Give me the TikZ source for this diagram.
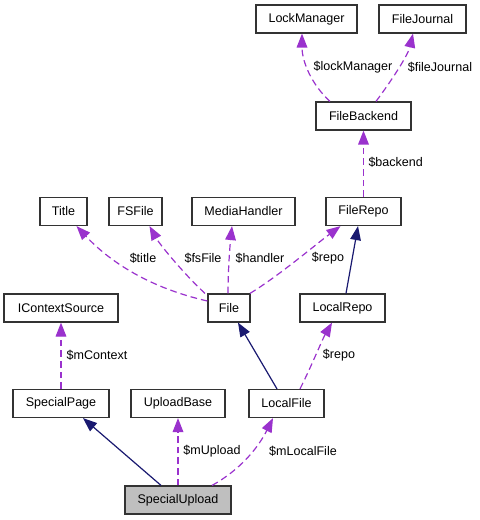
\documentclass[tikz,border=0pt]{standalone}
\usepackage{fontspec}
\setmainfont{Liberation Sans}
\usetikzlibrary{arrows.meta,calc}

\definecolor{edgepurple}{RGB}{154,50,205}
\definecolor{edgenavy}{RGB}{25,25,112}
\definecolor{boxgray}{RGB}{191,191,191}

\tikzset{every picture/.style={line width=0.75pt}}
\tikzset{
  classbox/.style={draw=black!80, line width=0.9pt, fill=white, inner sep=0pt, minimum height=21pt, font=\fontsize{9.4}{11}\selectfont},
  curbox/.style={classbox, fill=boxgray},
  member/.style={draw=edgepurple, line width=0.9pt, dash pattern=on 5pt off 3pt, -{Triangle[length=10.5pt,width=8pt,fill=edgepurple]}},
  inherit/.style={draw=edgenavy, line width=0.9pt, -{Triangle[length=10.5pt,width=8pt,fill=edgenavy]}},
  lbl/.style={inner sep=0.75pt, font=\fontsize{9.4}{11}\selectfont}
}

\begin{document}
\begin{tikzpicture}[x=0.75pt,y=0.75pt,yscale=-1,xscale=1]
\useasboundingbox (0,0) rectangle (479,520);
%Shape: Classes [id:boxes]
\node[classbox, minimum width=75.75pt] (lockm) at (306.5,19) {LockManager};
\node[classbox, minimum width=65.25pt] (filej) at (422.5,19) {FileJournal};
\node[classbox, minimum width=71.25pt] (fileb) at (363.5,116) {FileBackend};
\node[classbox, minimum width=35.25pt] (title) at (63.5,211.5) {Title};
\node[classbox, minimum width=39.75pt] (fsfile) at (135.5,211.5) {FSFile};
\node[classbox, minimum width=77.25pt] (mediah) at (243.5,211.5) {MediaHandler};
\node[classbox, minimum width=56.25pt] (filerepo) at (363.5,211.5) {FileRepo};
\node[classbox, minimum width=85.5pt] (icontext) at (61,308) {IContextSource};
\node[classbox, minimum width=31.5pt] (file) at (229,308) {File};
\node[classbox, minimum width=63.75pt] (localrepo) at (342.5,308) {LocalRepo};
\node[classbox, minimum width=72pt] (specialp) at (61,403.5) {SpecialPage};
\node[classbox, minimum width=70.5pt] (uploadb) at (178,403.5) {UploadBase};
\node[classbox, minimum width=56.25pt] (localf) at (286.5,403.5) {LocalFile};
\node[curbox, minimum width=79.5pt] (specialu) at (178,500) {SpecialUpload};

%Curve Lines [id:members]
\draw[member] ($(fileb.north)+(-33.5,0)$) .. controls (312,85) and (302,62) .. ($(lockm.south)+(-4.5,0)$);
\draw[member] ($(fileb.north)+(12.5,0)$) .. controls (392,80) and (408,55) .. ($(filej.south)+(-9.5,0)$);
\draw[member] (filerepo.north) -- (fileb.south);
\draw[member] ($(file.west)+(0,-7)$) .. controls (150,288) and (110,262) .. ($(title.south)+(13,0)$);
\draw[member] ($(file.north)+(-24,0)$) .. controls (185,275) and (160,245) .. ($(fsfile.south)+(14,0)$);
\draw[member] ($(file.north)+(-1,0)$) .. controls (228,270) and (230,245) .. ($(mediah.south)+(-11.5,0)$);
\draw[member] ($(file.north)+(21,0)$) .. controls (280,275) and (315,245) .. ($(filerepo.south)+(-23,0)$);
\draw[member] (specialp.north) -- (icontext.south);
\draw[member] ($(localf.north)+(13.5,0)$) .. controls (312,365) and (322,340) .. ($(localrepo.south)+(-10.5,0)$);
\draw[member] (specialu.north) -- (uploadb.south);
\draw[member] ($(specialu.north)+(34,0)$) .. controls (240,470) and (258,448) .. ($(localf.south)+(-13.5,0)$);

%Straight Lines [id:inheritance]
\draw[inherit] ($(localrepo.north)+(3.5,0)$) -- ($(filerepo.south)+(-5.5,0)$);
\draw[inherit] ($(localf.north)+(-9.5,0)$) -- ($(file.south)+(9,0)$);
\draw[inherit] ($(specialu.north)+(-17,0)$) -- ($(specialp.south)+(22,0)$);

% Text Node
\node[lbl] (lbllock) at (353,67) {\$lockManager};
% Text Node
\node[lbl] (lbljournal) at (440,67) {\$fileJournal};
% Text Node
\node[lbl, anchor=west] (lblbackend) at (367,162) {\$backend};
% Text Node
\node[lbl] (lbltitle) at (143,258) {\$title};
% Text Node
\node[lbl] (lblfsfile) at (203,258) {\$fsFile};
% Text Node
\node[lbl] (lblhandler) at (260,258) {\$handler};
% Text Node
\node[lbl] (lblrepo) at (328,258) {\$repo};
% Text Node
\node[lbl] (lblcontext) at (97,355) {\$mContext};
% Text Node
\node[lbl] (lbllocalrepo) at (339,355) {\$repo};
% Text Node
\node[lbl] (lblupload) at (212,451) {\$mUpload};
% Text Node
\node[lbl] (lbllocalfile) at (303,451) {\$mLocalFile};

\end{tikzpicture}
\end{document}
